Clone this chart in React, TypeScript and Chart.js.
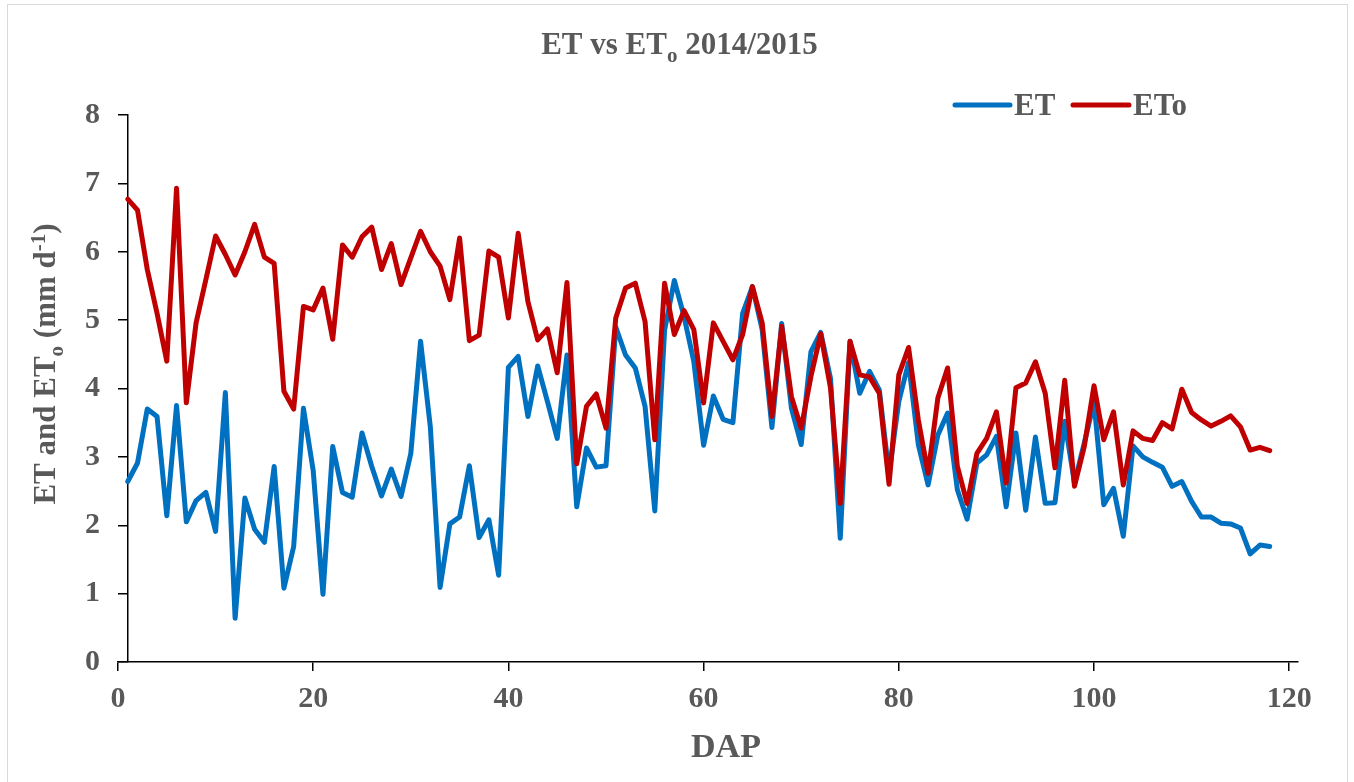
import React, { useEffect, useRef } from "react";
import { Chart, registerables } from "chart.js";

Chart.register(...registerables);

// ---- Data ----
const DAP = [
  1, 2, 3, 4, 5, 6, 7, 8, 9, 10, 11, 12, 13, 14, 15, 16, 17, 18, 19, 20,
  21, 22, 23, 24, 25, 26, 27, 28, 29, 30, 31, 32, 33, 34, 35, 36, 37, 38, 39, 40,
  41, 42, 43, 44, 45, 46, 47, 48, 49, 50, 51, 52, 53, 54, 55, 56, 57, 58, 59, 60,
  61, 62, 63, 64, 65, 66, 67, 68, 69, 70, 71, 72, 73, 74, 75, 76, 77, 78, 79, 80,
  81, 82, 83, 84, 85, 86, 87, 88, 89, 90, 91, 92, 93, 94, 95, 96, 97, 98, 99, 100,
  101, 102, 103, 104, 105, 106, 107, 108, 109, 110, 111, 112, 113, 114, 115, 116, 117, 118,
];

const ET = [
  2.64, 2.91, 3.7, 3.59, 2.14, 3.75, 2.05, 2.36, 2.48, 1.91,
  3.94, 0.64, 2.4, 1.94, 1.75, 2.86, 1.08, 1.69, 3.71, 2.8,
  0.99, 3.15, 2.48, 2.41, 3.35, 2.86, 2.43, 2.82, 2.42, 3.05,
  4.69, 3.44, 1.09, 2.02, 2.12, 2.87, 1.82, 2.08, 1.27, 4.31,
  4.47, 3.59, 4.33, 3.81, 3.27, 4.49, 2.27, 3.13, 2.85, 2.87,
  4.9, 4.49, 4.3, 3.74, 2.21, 4.85, 5.58, 5.05, 4.39, 3.17,
  3.89, 3.55, 3.5, 5.1, 5.49, 4.86, 3.43, 4.95, 3.71, 3.18,
  4.54, 4.82, 4.15, 1.81, 4.69, 3.93, 4.25, 3.98, 2.75, 3.81,
  4.38, 3.18, 2.59, 3.32, 3.64, 2.52, 2.09, 2.91, 3.03, 3.3,
  2.27, 3.35, 2.22, 3.29, 2.32, 2.33, 3.52, 2.62, 3.2, 3.8,
  2.3, 2.54, 1.84, 3.16, 3.0, 2.92, 2.85, 2.57, 2.64, 2.35,
  2.12, 2.12, 2.03, 2.02, 1.96, 1.58, 1.71, 1.69,
];

const ETO = [
  6.77, 6.61, 5.74, 5.1, 4.4, 6.93, 3.79, 4.96, 5.59, 6.23,
  5.96, 5.66, 6.0, 6.4, 5.92, 5.83, 3.96, 3.7, 5.2, 5.15,
  5.47, 4.72, 6.1, 5.92, 6.22, 6.36, 5.74, 6.12, 5.52, 5.91,
  6.3, 6.0, 5.79, 5.3, 6.2, 4.7, 4.78, 6.01, 5.92, 5.03,
  6.27, 5.27, 4.71, 4.87, 4.23, 5.55, 2.9, 3.74, 3.92, 3.42,
  5.03, 5.47, 5.54, 4.98, 3.25, 5.54, 4.79, 5.14, 4.86, 3.79,
  4.96, 4.69, 4.42, 4.79, 5.49, 4.96, 3.59, 4.91, 3.88, 3.42,
  4.18, 4.8, 4.01, 2.32, 4.69, 4.2, 4.17, 3.93, 2.6, 4.2,
  4.6, 3.54, 2.76, 3.86, 4.3, 2.86, 2.32, 3.05, 3.27, 3.66,
  2.62, 4.01, 4.08, 4.39, 3.93, 2.84, 4.12, 2.57, 3.15, 4.04,
  3.25, 3.66, 2.59, 3.38, 3.27, 3.24, 3.5, 3.41, 3.99, 3.65,
  3.54, 3.45, 3.52, 3.6, 3.44, 3.1, 3.14, 3.09,
];

const SERIES_LABELS = ["ET", "ETo"];
const TITLE = { main: "ET vs ET", sub: "o", tail: " 2014/2015" };
const Y_TITLE = { a: "ET and ET", sub: "o", b: " (mm d", sup: "-1", c: ")" };
const X_TITLE = "DAP";

const FONT = '"Liberation Serif", "Times New Roman", serif';
const TEXT_COLOR = "#595959";
const BLUE = "#0070C0";
const RED = "#C00000";

type Part = { text: string; size: number; dy?: number };

function drawRich(ctx: CanvasRenderingContext2D, parts: Part[], x: number, y: number, align: "left" | "center") {
  const widths = parts.map((p) => {
    ctx.font = `bold ${p.size}px ${FONT}`;
    return ctx.measureText(p.text).width;
  });
  const total = widths.reduce((a, b) => a + b, 0);
  let cx = align === "center" ? x - total / 2 : x;
  ctx.textAlign = "left";
  ctx.textBaseline = "alphabetic";
  parts.forEach((p, i) => {
    ctx.font = `bold ${p.size}px ${FONT}`;
    ctx.fillText(p.text, cx, y + (p.dy || 0));
    cx += widths[i];
  });
}

const decorPlugin = {
  id: "decor",
  afterDraw(chart: any) {
    const ctx: CanvasRenderingContext2D = chart.ctx;
    ctx.save();
    // outer frame
    ctx.strokeStyle = "#d9d9d9";
    ctx.lineWidth = 1;
    ctx.strokeRect(7.5, 4.5, 1340, 800);

    ctx.fillStyle = TEXT_COLOR;
    // title
    drawRich(
      ctx,
      [
        { text: TITLE.main, size: 31 },
        { text: TITLE.sub, size: 21, dy: 8 },
        { text: TITLE.tail, size: 31 },
      ],
      679.5,
      54,
      "center"
    );

    // y-axis title
    ctx.save();
    ctx.translate(55, 364);
    ctx.rotate(-Math.PI / 2);
    drawRich(
      ctx,
      [
        { text: Y_TITLE.a, size: 31 },
        { text: Y_TITLE.sub, size: 21, dy: 8 },
        { text: Y_TITLE.b, size: 31 },
        { text: Y_TITLE.sup, size: 21, dy: -10 },
        { text: Y_TITLE.c, size: 31 },
      ],
      0,
      0,
      "center"
    );
    ctx.restore();

    // x-axis title
    drawRich(ctx, [{ text: X_TITLE, size: 34 }], 726, 757, "center");

    // legend
    const items = [
      { color: BLUE, x1: 955, x2: 1010, tx: 1014, label: SERIES_LABELS[0] },
      { color: RED, x1: 1073, x2: 1129, tx: 1133, label: SERIES_LABELS[1] },
    ];
    items.forEach((it) => {
      ctx.strokeStyle = it.color;
      ctx.lineWidth = 5;
      ctx.lineCap = "round";
      ctx.beginPath();
      ctx.moveTo(it.x1, 105);
      ctx.lineTo(it.x2, 105);
      ctx.stroke();
      ctx.fillStyle = TEXT_COLOR;
      drawRich(ctx, [{ text: it.label, size: 31 }], it.tx, 115, "left");
    });
    ctx.restore();
  },
};

export default function App() {
  const canvasRef = useRef<HTMLCanvasElement | null>(null);

  useEffect(() => {
    const canvas = canvasRef.current;
    if (!canvas) return;
    const tickFont = { family: FONT, size: 30, weight: "bold" as const };
    const chart = new Chart(canvas, {
      type: "line",
      data: {
        datasets: [
          {
            label: SERIES_LABELS[0],
            data: DAP.map((d, i) => ({ x: d, y: ET[i] })),
            borderColor: BLUE,
            backgroundColor: BLUE,
            borderWidth: 5,
            pointRadius: 0,
            pointHoverRadius: 0,
            borderJoinStyle: "round",
            borderCapStyle: "round",
            tension: 0,
            order: 1,
          },
          {
            label: SERIES_LABELS[1],
            data: DAP.map((d, i) => ({ x: d, y: ETO[i] })),
            borderColor: RED,
            backgroundColor: RED,
            borderWidth: 5,
            pointRadius: 0,
            pointHoverRadius: 0,
            borderJoinStyle: "round",
            borderCapStyle: "round",
            tension: 0,
            order: 0,
          },
        ],
      },
      options: {
        animation: false,
        responsive: false,
        events: [],
        layout: { padding: { left: 0, top: 115, right: 56, bottom: 0 } },
        plugins: {
          legend: { display: false },
          title: { display: false },
          tooltip: { enabled: false },
        },
        scales: {
          x: {
            type: "linear",
            position: "bottom",
            min: 0,
            max: 120.9,
            ticks: {
              stepSize: 20,
              includeBounds: false,
              font: tickFont,
              color: TEXT_COLOR,
              padding: 10,
              maxRotation: 0,
              autoSkip: false,
            },
            grid: {
              display: true,
              drawOnChartArea: false,
              drawTicks: true,
              tickLength: 9,
              color: "#000",
              lineWidth: 1.5,
            },
            border: { display: true, color: "#000", width: 1.5 },
            afterFit: (s: any) => {
              s.height = 120;
            },
          },
          // label-only axis on the left edge of the plot
          yLabels: {
            type: "linear",
            position: "left",
            min: 0,
            max: 8,
            ticks: {
              stepSize: 1,
              font: tickFont,
              color: TEXT_COLOR,
              padding: 18,
            },
            grid: { display: false, drawTicks: false, tickLength: 0 },
            border: { display: false },
            afterFit: (s: any) => {
              s.width = 118;
            },
          },
          // value axis line crossing at DAP = 1
          y: {
            type: "linear",
            position: { x: 1 } as any,
            min: 0,
            max: 8,
            ticks: { stepSize: 1, display: false },
            grid: {
              display: true,
              drawOnChartArea: false,
              drawTicks: true,
              tickLength: 9,
              color: "#000",
              lineWidth: 1.5,
            },
            border: { display: true, color: "#000", width: 1.5 },
          },
        },
      },
      plugins: [decorPlugin],
    } as any);
    return () => chart.destroy();
  }, []);

  return (
    <div style={{ position: "absolute", left: 0, top: 0, width: 1354, height: 782, background: "#fff" }}>
      <canvas ref={canvasRef} width={1354} height={782} style={{ display: "block" }} />
    </div>
  );
}
